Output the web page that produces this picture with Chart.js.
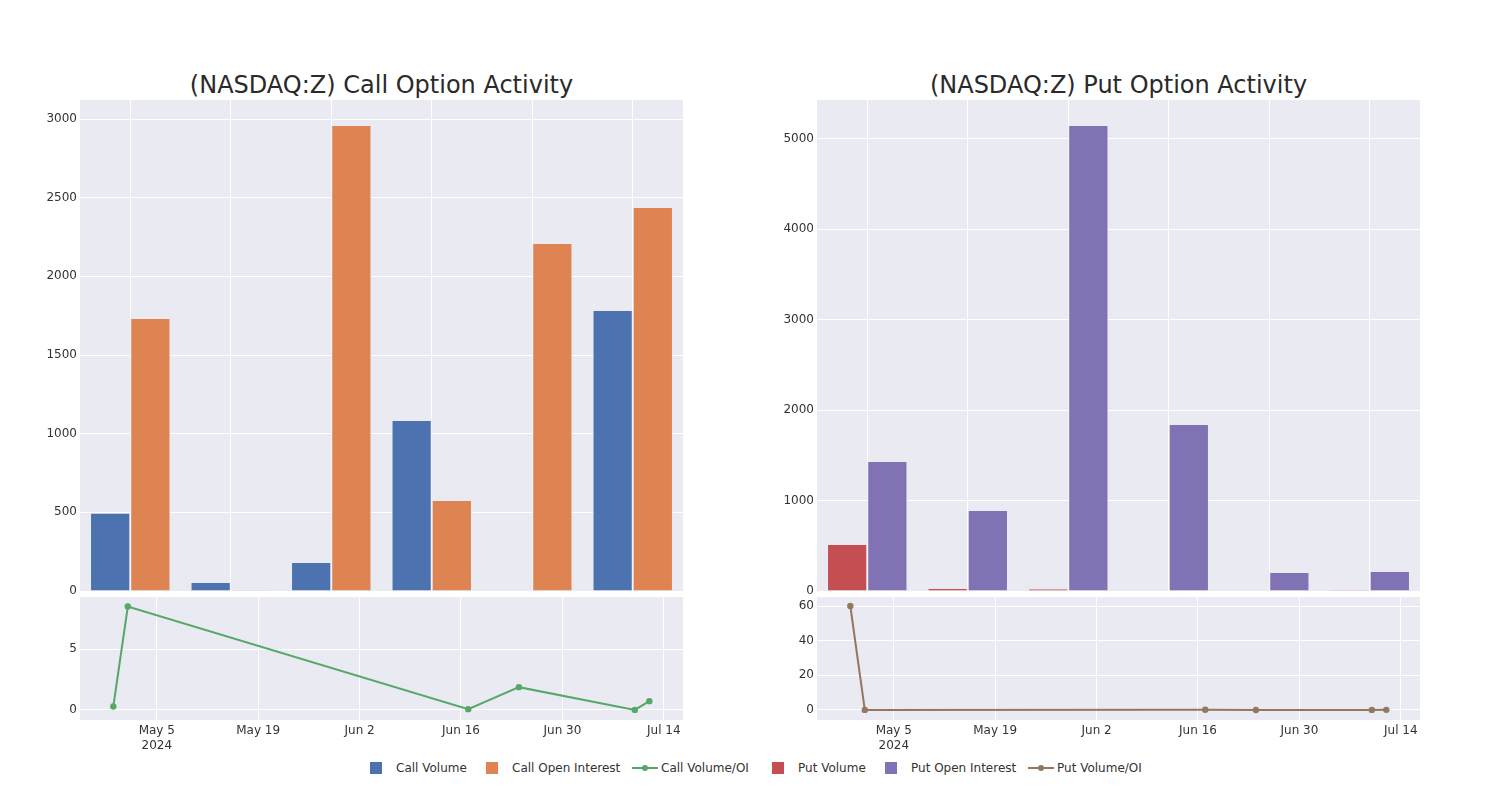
<!DOCTYPE html>
<html lang="en">
<head>
<meta charset="utf-8">
<title>(NASDAQ:Z) Option Activity</title>
<script src="https://cdn.jsdelivr.net/npm/chart.js@4.4.1/dist/chart.umd.min.js"></script>
<style>
  body { margin: 0; background: #fff; font-family: "DejaVu Sans", sans-serif; }
  #wrap { position: relative; width: 1500px; height: 800px; }
  canvas { position: absolute; }
  .title { position: absolute; top: 70px; width: 603px; text-align: center;
           font-size: 24px; line-height: 30px; color: #2a2a2a; }
  .lg { position: absolute; top: 760px; height: 16px; font-size: 12px; line-height: 16px; color: #333; white-space: nowrap; }
  .sq { position: absolute; top: 762px; width: 12px; height: 12px; }
  .ln { position: absolute; top: 767px; width: 26px; height: 2px; }
  .ln i { position: absolute; left: 10px; top: -2px; width: 6px; height: 6px; border-radius: 50%; background: inherit; }
</style>
</head>
<body>
<div id="wrap">
  <div class="title" style="left:80px">(NASDAQ:Z) Call Option Activity</div>
  <div class="title" style="left:817px">(NASDAQ:Z) Put Option Activity</div>

  <canvas id="call-bar" width="663" height="510" style="left:20px; top:90px"></canvas>
  <canvas id="call-line" width="667" height="165" style="left:20px; top:590px"></canvas>
  <canvas id="put-bar" width="663" height="510" style="left:757px; top:90px"></canvas>
  <canvas id="put-line" width="667" height="165" style="left:757px; top:590px"></canvas>

  <span class="sq" style="left:370px; background:#4C72B0"></span><span class="lg" style="left:396px">Call Volume</span>
  <span class="sq" style="left:486px; background:#DD8452"></span><span class="lg" style="left:512px">Call Open Interest</span>
  <span class="ln" style="left:632px; background:#55A868"><i></i></span><span class="lg" style="left:661px">Call Volume/OI</span>
  <span class="sq" style="left:772px; background:#C44E52"></span><span class="lg" style="left:798px">Put Volume</span>
  <span class="sq" style="left:885px; background:#8172B3"></span><span class="lg" style="left:911px">Put Open Interest</span>
  <span class="ln" style="left:1028px; background:#937860"><i></i></span><span class="lg" style="left:1057px">Put Volume/OI</span>
</div>
<script>
  // expiry dates, shared by bars and lines
  var dates = ['2024-04-29', '2024-05-01', '2024-06-17', '2024-06-24', '2024-07-10', '2024-07-12'];

  var callVolume = [497, 57, 184, 1087, 3, 1786];
  var callOpenInterest = [1735, 5, 2962, 578, 2212, 2441];
  var callRatio = [0.28, 8.5, 0.06, 1.87, 0.0, 0.72];

  var putVolume = [520, 33, 25, 0, 5, 11];
  var putOpenInterest = [1438, 896, 5155, 1847, 210, 221];
  var putRatio = [60, 0.04, 0.1, 0.0, 0.02, 0.05];

  var callBarTicks = [0, 500, 1000, 1500, 2000, 2500, 3000];
  var putBarTicks = [0, 1000, 2000, 3000, 4000, 5000];
  var callLineTicks = [0, 5];
  var putLineTicks = [0, 20, 40, 60];
  var dateTicks = ['2024-05-05', '2024-05-19', '2024-06-02', '2024-06-16', '2024-06-30', '2024-07-14'];
  var months = ['Jan', 'Feb', 'Mar', 'Apr', 'May', 'Jun', 'Jul', 'Aug', 'Sep', 'Oct', 'Nov', 'Dec'];

  var FONT = { family: 'DejaVu Sans', size: 12 };
  var TICK = '#333';
  var BG = '#EAEAF2';

  function dayOf(s) {
    var p = s.split('-');
    return Date.UTC(+p[0], +p[1] - 1, +p[2]) / 86400000;
  }

  function fmtDay(v, i) {
    var d = new Date(v * 86400000);
    var s = months[d.getUTCMonth()] + ' ' + d.getUTCDate();
    return i === 0 ? [s, String(d.getUTCFullYear())] : s;
  }

  var plotBg = {
    id: 'plotBg',
    beforeDraw: function (chart) {
      var a = chart.chartArea, c = chart.ctx;
      c.save();
      c.fillStyle = BG;
      c.fillRect(a.left, a.top, a.right - a.left, a.bottom - a.top);
      c.restore();
    }
  };

  function fixY(scale) {
    scale.width = 60;
    scale.paddingTop = 0;
    scale.paddingBottom = 0;
  }

  function fixX(h) {
    return function (scale) {
      scale.height = h;
      scale.paddingLeft = 0;
      scale.paddingRight = 0;
    };
  }

  function setTicks(list) {
    return function (scale) {
      scale.ticks = list.map(function (v) { return { value: v }; });
    };
  }

  function bar_chart(canvas, vol, oi, colors, labels, ymax, ticks) {
    return new Chart(document.getElementById(canvas), {
      type: 'bar',
      data: {
        labels: dates,
        datasets: [
          { label: labels[0], data: vol, backgroundColor: colors[0],
            borderColor: 'rgba(234,234,242,0.9)', borderWidth: 1 },
          { label: labels[1], data: oi, backgroundColor: colors[1],
            borderColor: 'rgba(234,234,242,0.9)', borderWidth: 1 }
        ]
      },
      options: {
        responsive: false,
        animation: false,
        layout: { padding: { top: 10, bottom: 9, left: 0, right: 0 } },
        datasets: { bar: { categoryPercentage: 0.8, barPercentage: 1.0 } },
        plugins: { legend: { display: false }, tooltip: { enabled: false } },
        scales: {
          x: {
            grid: { color: '#fff', lineWidth: 1, drawTicks: false, offset: false },
            border: { display: false },
            ticks: { display: false },
            afterFit: fixX(0)
          },
          y: {
            min: 0, max: ymax,
            grid: { color: '#fff', lineWidth: 1, drawTicks: false },
            border: { display: false },
            ticks: { padding: 3, color: TICK, font: FONT,
                     callback: function (v) { return String(v); } },
            afterBuildTicks: setTicks(ticks),
            afterFit: fixY
          }
        }
      },
      plugins: [plotBg]
    });
  }

  function line_chart(canvas, ratio, color, label, ymin, ymax, ticks) {
    return new Chart(document.getElementById(canvas), {
      type: 'line',
      data: {
        datasets: [{
          label: label,
          data: dates.map(function (d, i) { return { x: dayOf(d), y: ratio[i] }; }),
          borderColor: color, backgroundColor: color,
          borderWidth: 2, pointRadius: 3.2, pointBorderWidth: 0, tension: 0
        }]
      },
      options: {
        responsive: false,
        animation: false,
        layout: { padding: { top: 7, bottom: 0, left: 0, right: 0 } },
        plugins: { legend: { display: false }, tooltip: { enabled: false } },
        scales: {
          x: {
            type: 'linear',
            min: dayOf('2024-04-24') + 0.4,
            max: dayOf('2024-07-16') + 0.65,
            afterBuildTicks: setTicks(dateTicks.map(dayOf)),
            grid: { color: '#fff', lineWidth: 1, drawTicks: false },
            border: { display: false },
            ticks: { autoSkip: false, maxRotation: 0, padding: 4, color: TICK, font: FONT,
                     callback: function (v, i) { return fmtDay(v, i); } },
            afterFit: fixX(35)
          },
          y: {
            min: ymin, max: ymax,
            grid: { color: '#fff', lineWidth: 1, drawTicks: false },
            border: { display: false },
            ticks: { padding: 3, color: TICK, font: FONT,
                     callback: function (v) { return String(v); } },
            afterBuildTicks: setTicks(ticks),
            afterFit: fixY
          }
        }
      },
      plugins: [plotBg]
    });
  }

  var call_bar = bar_chart('call-bar', callVolume, callOpenInterest, ['#4C72B0', '#DD8452'],
                           ['Call Volume', 'Call Open Interest'], 3121, callBarTicks);
  var put_bar = bar_chart('put-bar', putVolume, putOpenInterest, ['#C44E52', '#8172B3'],
                          ['Put Volume', 'Put Open Interest'], 5431, putBarTicks);
  var call_line = line_chart('call-line', callRatio, '#55A868', 'Call Volume/OI', -0.83, 9.28, callLineTicks);
  var put_line = line_chart('put-line', putRatio, '#937860', 'Put Volume/OI', -5.8, 65.2, putLineTicks);
</script>
</body>
</html>
